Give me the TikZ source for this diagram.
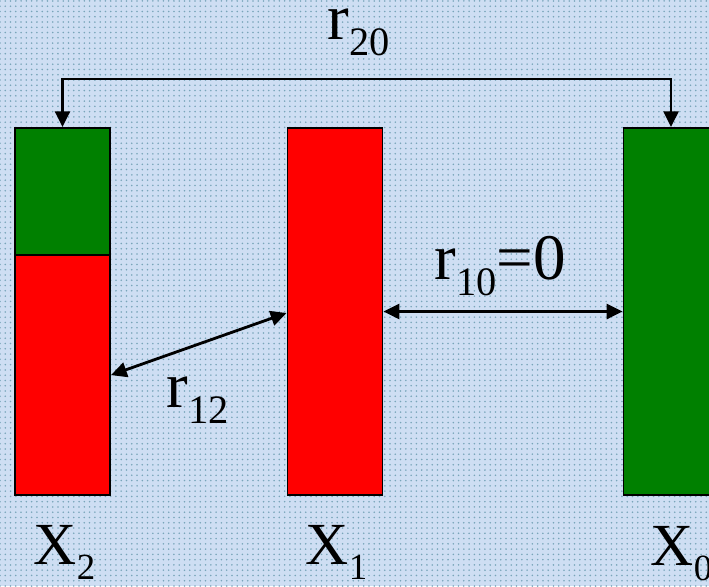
\documentclass[tikz,border=0pt]{standalone}
\usepackage{fontspec}
\setmainfont{Liberation Serif}
\usetikzlibrary{arrows.meta,calc,patterns}

\definecolor{bgblue}{RGB}{206,222,243}
\definecolor{dotcol}{RGB}{120,165,185}
\definecolor{barred}{RGB}{255,0,0}
\definecolor{bargreen}{RGB}{0,128,0}

% label with a lowered index
\newcommand{\rlab}[2]{\fontsize{37}{40}\selectfont #1\raisebox{-9.6pt}{\fontsize{23}{24}\selectfont #2}}
\newcommand{\xlab}[2]{\fontsize{34}{38}\selectfont #1\raisebox{-9pt}{\fontsize{21}{22}\selectfont #2}}

\begin{document}
\begin{tikzpicture}[x=0.02cm, y=-0.02cm, thick,
    bar/.style={draw, line width=1.1pt, inner sep=0pt, minimum width=1.9cm, minimum height=7.34cm},
    link/.style={line width=1.6pt, {Triangle[length=9pt,width=8.5pt]}-{Triangle[length=9pt,width=8.5pt]}},
    lab/.style={anchor=base west, inner sep=0pt}]
    \useasboundingbox (0,0) rectangle (709,586);
    \clip (0,0) rectangle (709,586);

    % Background
    \fill[bgblue] (0,0) rectangle (709,586);
    \fill[pattern=dots, pattern color=dotcol] (0,0) rectangle (709,586);

    % Bars
    \node[bar, fill=barred] (bar2) at (62.5,311.5) {};
    \fill[bargreen] (bar2.north west) rectangle ($(bar2.north east)+(0,128)$);
    \node[bar] at (bar2) {};
    \draw[line width=1.1pt] (bar2.north west) ++(0,128) -- ++(95,0);
    \node[bar, fill=barred] (bar1) at (335,311.5) {};
    \node[bar, fill=bargreen] (bar0) at (671,311.5) {};

    % Distances
    \draw[link] (bar2.north) -- ++(0,-48) -| (bar0.north);
    \draw[link] ($(bar2.north east)+(0,248)$) -- ($(bar1.west)+(0,1.5)$);
    \draw[link] (bar1.east) -- (bar0.west);

    % Labels
    \node[lab] (r20) at (327,39) {\rlab{r}{20}};
    \node[lab] (r10) at (434,279) {\rlab{r}{10}\fontsize{37}{40}\selectfont=0};
    \node[lab] (r12) at (166,407) {\rlab{r}{12}};
    \node[lab] (x2) at (33,564) {\xlab{X}{2}};
    \node[lab] (x1) at (305,564) {\xlab{X}{1}};
    \node[lab] (x0) at (650,565) {\xlab{X}{0}};
\end{tikzpicture}
\end{document}
